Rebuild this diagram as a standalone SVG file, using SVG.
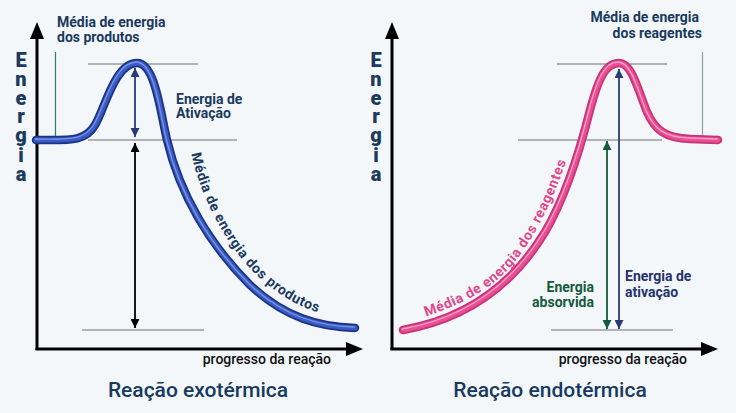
<svg xmlns="http://www.w3.org/2000/svg" width="736" height="413" viewBox="0 0 736 413">
<defs>
<style>
.bg{fill:#f3f7fa}
.axis{stroke:#000;stroke-width:3;fill:none}
.ahead{fill:#000}
.guide{stroke:#9a9ea3;stroke-width:1.5;fill:none}
.lbl{font-family:Roboto,"Liberation Sans",sans-serif;font-weight:bold;font-size:14px;fill:#1b3a5e}
.clbl{font-family:Roboto,"Liberation Sans",sans-serif;font-weight:bold;font-size:14px;letter-spacing:0.6px}
.ylab{font-family:Roboto,"Liberation Sans",sans-serif;font-weight:900;font-size:20px;fill:#1b3a5e;text-anchor:middle}
.xlab{font-family:Roboto,"Liberation Sans",sans-serif;font-weight:500;font-size:14px;fill:#111}
.title{font-family:Roboto,"Liberation Sans",sans-serif;font-weight:500;font-size:21px;fill:#173a5e}
.blueO{stroke:#1c3384;stroke-width:8.5;fill:none;stroke-linecap:round}
.blueI{stroke:#3a5cc4;stroke-width:5;fill:none;stroke-linecap:round}
.blueH{stroke:#7a95e6;stroke-width:1.3;fill:none;stroke-linecap:round}
.pinkO{stroke:#c73477;stroke-width:8.5;fill:none;stroke-linecap:round}
.pinkI{stroke:#ea4f95;stroke-width:5;fill:none;stroke-linecap:round}
.pinkH{stroke:#f7a0c6;stroke-width:1.3;fill:none;stroke-linecap:round}
</style>
<marker id="mNavy" viewBox="0 0 10 10" refX="10" refY="5" markerWidth="5" markerHeight="5" orient="auto-start-reverse" markerUnits="strokeWidth"><path d="M0,0 L10,5 L0,10 z" fill="#2b3a75"/></marker>
<marker id="mBlack" viewBox="0 0 10 10" refX="10" refY="5" markerWidth="5" markerHeight="5" orient="auto-start-reverse" markerUnits="strokeWidth"><path d="M0,0 L10,5 L0,10 z" fill="#000"/></marker>
<marker id="mGreen" viewBox="0 0 10 10" refX="10" refY="5" markerWidth="5" markerHeight="5" orient="auto-start-reverse" markerUnits="strokeWidth"><path d="M0,0 L10,5 L0,10 z" fill="#155a3c"/></marker>
<path id="pathL" d="M191,152 C198,190 225,248 262,280 C285,300 308,312 340,318"/>
<path id="pathR" d="M424,317 C460,305 495,290 520,255 C540,228 555,195 572,145"/>
</defs>
<rect class="bg" x="0" y="0" width="736" height="413"/>

<g id="left-panel">
  <g id="axes-left">
    <line class="axis" x1="37" y1="350" x2="37" y2="36"/>
    <path class="ahead" d="M37,22 L44,39 L30,39 z"/>
    <line class="axis" x1="35.5" y1="349" x2="349" y2="349"/>
    <path class="ahead" d="M363,349 L346,342 L346,356 z"/>
  </g>
  <text class="ylab"><tspan x="21" y="67">E</tspan><tspan x="21" y="86">n</tspan><tspan x="21" y="105">e</tspan><tspan x="21" y="123">r</tspan><tspan x="21" y="142">g</tspan><tspan x="21" y="162">i</tspan><tspan x="21" y="181">a</tspan></text>
  <g id="guides-left">
    <line class="guide" x1="88" y1="64" x2="198" y2="64"/>
    <line class="guide" x1="88" y1="140" x2="237" y2="140"/>
    <line class="guide" x1="82" y1="330" x2="204" y2="330"/>
    <line x1="55.5" y1="52" x2="55.5" y2="137" stroke="#2e7d5b" stroke-width="1.2"/>
  </g>
  <g id="curve-exo">
    <path class="blueO" d="M36,140 C70,140 85,142 95,125 C105,108 115,63 137,63 C155,63 160,110 167,140 C180,195 210,245 250,285 C285,318 320,327 355,328"/>
    <path class="blueI" d="M36,140 C70,140 85,142 95,125 C105,108 115,63 137,63 C155,63 160,110 167,140 C180,195 210,245 250,285 C285,318 320,327 355,328"/>
    <path class="blueH" transform="translate(-0.8,-1)" d="M36,140 C70,140 85,142 95,125 C105,108 115,63 137,63 C155,63 160,110 167,140 C180,195 210,245 250,285 C285,318 320,327 355,328"/>
  </g>
  <text id="curve-label-left" class="clbl" style="fill:#1b3a5e"><textPath href="#pathL" startOffset="2">Média de energia dos produtos</textPath></text>
  <text class="lbl" x="57" y="27">Média de energia</text>
  <text class="lbl" x="57" y="42">dos produtos</text>
  <text class="lbl" x="176" y="104">Energia de</text>
  <text class="lbl" x="176" y="118">Ativação</text>
  <text class="xlab" x="331" y="364" text-anchor="end">progresso da reação</text>
  <text class="title" x="198" y="397" text-anchor="middle">Reação exotérmica</text>
</g>

<g id="right-panel">
  <g id="axes-right">
    <line class="axis" x1="392" y1="350" x2="392" y2="36"/>
    <path class="ahead" d="M392,22 L399,39 L385,39 z"/>
    <line class="axis" x1="390.5" y1="349" x2="704" y2="349"/>
    <path class="ahead" d="M718,349 L701,342 L701,356 z"/>
  </g>
  <text class="ylab"><tspan x="376" y="67">E</tspan><tspan x="376" y="86">n</tspan><tspan x="376" y="105">e</tspan><tspan x="376" y="123">r</tspan><tspan x="376" y="142">g</tspan><tspan x="376" y="162">i</tspan><tspan x="376" y="181">a</tspan></text>
  <g id="guides-right">
    <line class="guide" x1="557" y1="64" x2="667" y2="64"/>
    <line class="guide" x1="518" y1="140" x2="662" y2="140"/>
    <line class="guide" x1="551" y1="330" x2="673" y2="330"/>
    <line x1="702.5" y1="52" x2="702.5" y2="137" stroke="#8fa39a" stroke-width="1.2"/>
  </g>
  <g id="curve-endo">
    <path class="pinkO" d="M403,330 C460,320 510,290 545,232 C565,198 580,150 590,110 C598,80 605,63 619,63 C632,63 638,90 647,112 C655,130 665,138 690,139 L718,140"/>
    <path class="pinkI" d="M403,330 C460,320 510,290 545,232 C565,198 580,150 590,110 C598,80 605,63 619,63 C632,63 638,90 647,112 C655,130 665,138 690,139 L718,140"/>
    <path class="pinkH" transform="translate(-0.8,-1)" d="M403,330 C460,320 510,290 545,232 C565,198 580,150 590,110 C598,80 605,63 619,63 C632,63 638,90 647,112 C655,130 665,138 690,139 L718,140"/>
  </g>
  <text id="curve-label-right" class="clbl" style="fill:#e2468c"><textPath href="#pathR" startOffset="2">Média de energia dos reagentes</textPath></text>
  <text class="lbl" x="699" y="22" text-anchor="end">Média de energia</text>
  <text class="lbl" x="702" y="38" text-anchor="end">dos reagentes</text>
  <text class="lbl" x="594" y="292" text-anchor="end" style="fill:#155a3c">Energia</text>
  <text class="lbl" x="594" y="307" text-anchor="end" style="fill:#155a3c">absorvida</text>
  <text class="lbl" x="625" y="281" style="fill:#25336e">Energia de</text>
  <text class="lbl" x="625" y="297" style="fill:#25336e">ativação</text>
  <text class="xlab" x="687" y="364" text-anchor="end">progresso da reação</text>
  <text class="title" x="550" y="397" text-anchor="middle">Reação endotérmica</text>
</g>

<g id="connectors">
  <line x1="135" y1="68" x2="135" y2="137" stroke="#2b3a75" stroke-width="1.8" marker-start="url(#mNavy)" marker-end="url(#mNavy)"/>
  <line x1="135" y1="143" x2="135" y2="328" stroke="#000" stroke-width="1.8" marker-start="url(#mBlack)" marker-end="url(#mBlack)"/>
  <line x1="607" y1="141" x2="607" y2="329" stroke="#155a3c" stroke-width="1.8" marker-start="url(#mGreen)" marker-end="url(#mGreen)"/>
  <line x1="619" y1="69" x2="619" y2="329" stroke="#2b3a75" stroke-width="1.8" marker-start="url(#mNavy)" marker-end="url(#mNavy)"/>
</g>
</svg>
